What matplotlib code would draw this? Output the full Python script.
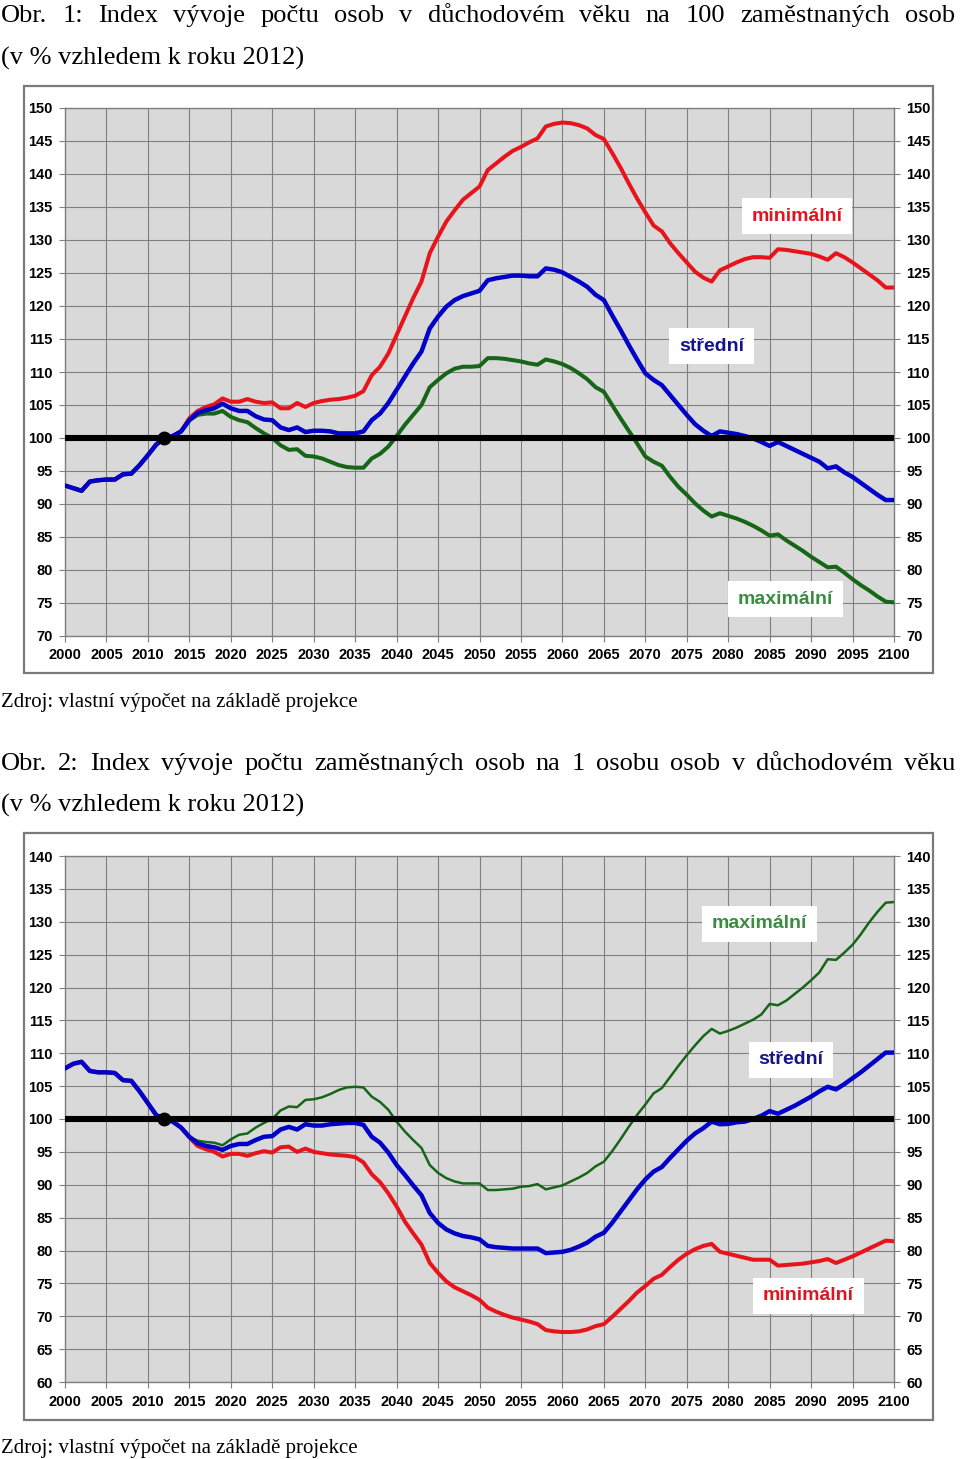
import matplotlib
matplotlib.use('Agg')
import matplotlib.pyplot as plt
import numpy as np
from matplotlib.patches import Rectangle

# ---------------- DATA ----------------
years = list(range(2000, 2101))
base_value = 100
base_year = 2012

# Chart 1: persons in retirement age per 100 employed (index, 2012 = 100)
common1 = [92.8, 92.4, 92.0, 93.4, 93.6, 93.7, 93.7, 94.5, 94.6, 95.9,
           97.4, 99.0, 100.0, 100.3, 101.0]
stredni1 = common1 + [
    102.7, 103.8, 104.2, 104.5, 105.2,
    104.5, 104.1, 104.1, 103.3, 102.8, 102.7, 101.6, 101.2, 101.6, 100.9,
    101.1, 101.1, 101.0, 100.7, 100.7, 100.7, 101.0, 102.7, 103.7, 105.3,
    107.3, 109.3, 111.3, 113.1, 116.6, 118.4, 119.9, 120.9, 121.5, 121.9,
    122.3, 123.9, 124.2, 124.4, 124.6, 124.6, 124.5, 124.5, 125.7, 125.5,
    125.1, 124.4, 123.7, 122.9, 121.7, 120.9, 118.6, 116.4, 114.1, 111.9,
    109.8, 108.8, 108.0, 106.5, 105.0, 103.5, 102.1, 101.1, 100.3, 101.0,
    100.8, 100.6, 100.3, 99.95, 99.4, 98.8, 99.4, 98.8, 98.2, 97.6,
    97.0, 96.4, 95.4, 95.7, 94.8, 94.1, 93.2, 92.3, 91.4, 90.6,
    90.6]
minimalni1 = common1 + [
    103.0, 104.1, 104.7, 105.1, 106.0,
    105.5, 105.5, 105.9, 105.5, 105.3, 105.4, 104.5, 104.5, 105.3, 104.7,
    105.3, 105.6, 105.8, 105.9, 106.1, 106.4, 107.1, 109.5, 110.8, 112.8,
    115.6, 118.4, 121.2, 123.7, 128.0, 130.5, 132.8, 134.5, 136.1, 137.1,
    138.1, 140.6, 141.6, 142.6, 143.5, 144.1, 144.8, 145.4, 147.2, 147.6,
    147.8, 147.7, 147.4, 146.9, 145.9, 145.3, 143.2, 141.0, 138.6, 136.3,
    134.2, 132.2, 131.3, 129.5, 128.0, 126.6, 125.2, 124.3, 123.7, 125.4,
    126.0, 126.6, 127.1, 127.4, 127.4, 127.3, 128.6, 128.5, 128.3, 128.1,
    127.9, 127.5, 127.0, 128.0, 127.4, 126.6, 125.7, 124.8, 123.9, 122.8,
    122.8]
maximalni1 = common1 + [
    102.7, 103.5, 103.7, 103.7, 104.1,
    103.2, 102.7, 102.4, 101.5, 100.7, 100.0, 98.9, 98.2, 98.3, 97.3,
    97.2, 96.9, 96.4, 95.9, 95.6, 95.5, 95.5, 96.9, 97.6, 98.7,
    100.3, 102.0, 103.5, 105.0, 107.7, 108.8, 109.8, 110.5, 110.8, 110.8,
    110.9, 112.1, 112.1, 112.0, 111.8, 111.6, 111.3, 111.1, 111.9, 111.6,
    111.2, 110.6, 109.8, 108.9, 107.7, 107.0, 105.0, 103.0, 101.1, 99.2,
    97.2, 96.4, 95.8, 94.1, 92.6, 91.4, 90.1, 89.0, 88.1, 88.6,
    88.2, 87.8, 87.3, 86.7, 86.0, 85.2, 85.4, 84.5, 83.7, 82.9,
    82.0, 81.2, 80.4, 80.5, 79.6, 78.6, 77.7, 76.9, 76.0, 75.2,
    75.1]

# Chart 2: employed persons per 1 person in retirement age (index, 2012 = 100)
common2 = [107.7, 108.4, 108.7, 107.3, 107.1, 107.1, 107.0, 105.9, 105.8, 104.2,
           102.4, 100.6, 100.0, 99.6, 98.7]
stredni2 = common2 + [
    97.3, 96.3, 95.9, 95.7, 95.3,
    95.9, 96.2, 96.2, 96.8, 97.3, 97.4, 98.4, 98.8, 98.4, 99.2,
    99.0, 99.0, 99.2, 99.3, 99.4, 99.4, 99.1, 97.3, 96.4, 94.9,
    93.0, 91.5, 89.9, 88.4, 85.7, 84.2, 83.2, 82.6, 82.2, 82.0,
    81.7, 80.7, 80.5, 80.4, 80.3, 80.3, 80.3, 80.3, 79.6, 79.7,
    79.8, 80.1, 80.6, 81.2, 82.1, 82.7, 84.2, 85.9, 87.6, 89.3,
    90.8, 92.0, 92.7, 94.1, 95.4, 96.7, 97.8, 98.6, 99.6, 99.2,
    99.25, 99.5, 99.6, 100.0, 100.5, 101.2, 100.8, 101.4, 102.0, 102.7,
    103.4, 104.2, 104.9, 104.5, 105.3, 106.2, 107.1, 108.1, 109.1, 110.1,
    110.1]
minimalni2 = common2 + [
    97.2, 95.9, 95.4, 95.0, 94.3,
    94.7, 94.7, 94.4, 94.8, 95.1, 94.9, 95.7, 95.8, 95.0, 95.5,
    95.0, 94.8, 94.6, 94.5, 94.4, 94.2, 93.4, 91.6, 90.4, 88.7,
    86.7, 84.4, 82.6, 80.9, 78.1, 76.6, 75.3, 74.4, 73.8, 73.2,
    72.5, 71.3, 70.7, 70.2, 69.8, 69.5, 69.2, 68.8, 67.9, 67.7,
    67.6, 67.6, 67.7, 68.0, 68.5, 68.8, 69.9, 71.1, 72.3, 73.6,
    74.6, 75.7, 76.3, 77.5, 78.6, 79.5, 80.2, 80.7, 81.0, 79.8,
    79.5, 79.2, 78.9, 78.6, 78.6, 78.6, 77.7, 77.8, 77.9, 78.0,
    78.2, 78.4, 78.7, 78.1, 78.6, 79.1, 79.7, 80.3, 80.9, 81.5,
    81.4]
maximalni2 = common2 + [
    97.3, 96.7, 96.5, 96.4, 96.0,
    96.9, 97.6, 97.8, 98.7, 99.4, 100.0, 101.3, 101.9, 101.8, 102.9,
    103.0, 103.3, 103.8, 104.4, 104.8, 104.9, 104.8, 103.4, 102.6, 101.4,
    99.6, 98.1, 96.8, 95.6, 93.0, 91.8, 91.0, 90.5, 90.2, 90.2,
    90.2, 89.2, 89.2, 89.3, 89.4, 89.7, 89.8, 90.1, 89.3, 89.6,
    89.9, 90.5, 91.1, 91.8, 92.8, 93.5, 95.1, 96.9, 98.8, 100.6,
    102.2, 103.9, 104.7, 106.4, 108.1, 109.7, 111.2, 112.6, 113.7, 113.0,
    113.4, 113.9, 114.5, 115.1, 115.9, 117.5, 117.3, 118.0, 119.0, 120.0,
    121.1, 122.3, 124.3, 124.2, 125.3, 126.5, 128.1, 129.9, 131.5, 132.9,
    133.0]

title1 = ["Obr. 1: Index vývoje počtu osob v důchodovém věku na 100 zaměstnaných osob",
          "(v % vzhledem k roku 2012)"]
title2 = ["Obr. 2: Index vývoje počtu zaměstnaných osob na 1 osobu osob v důchodovém věku",
          "(v % vzhledem k roku 2012)"]
source = "Zdroj: vlastní výpočet na základě projekce"
x_ticks = list(range(2000, 2101, 5))
y_ticks1 = list(range(70, 151, 5))
y_ticks2 = list(range(60, 141, 5))

# ---------------- STYLE ----------------
W, H = 960, 1459
RED, BLUE, GREEN = '#e8141c', '#0000c8', '#176617'
RED_T, BLUE_T, GREEN_T = '#e0141e', '#14148c', '#3a8c40'
SANS = 'Liberation Sans'
SERIF = 'Liberation Serif'
TITLE_SIZE = 19
TICK_SIZE = 10.5

fig = plt.figure(figsize=(W / 100, H / 100), dpi=100)
fig.patch.set_facecolor('white')


def fx(px):
    return px / W


def fy(py):
    return 1 - py / H


def justified(text, y_base, x0, x1, size):
    words = text.split()
    objs = [fig.text(0, fy(y_base), w, fontsize=size, family=SERIF,
                     va='baseline', ha='left') for w in words]
    r = fig.canvas.get_renderer()
    widths = [o.get_window_extent(r).width for o in objs]
    gap = (x1 - x0 - sum(widths)) / (len(words) - 1)
    x = x0
    for o, wd in zip(objs, widths):
        o.set_x(fx(x))
        x += wd + gap


def frame(top, bottom):
    fig.patches.append(Rectangle((fx(24), fy(bottom)), fx(933) - fx(24),
                                 (bottom - top) / H, transform=fig.transFigure,
                                 fill=False, ec='#7a7a7a', lw=1.6, zorder=0))


def make_axes(top, bottom, ylim, yticks):
    ax = fig.add_axes([fx(65), fy(bottom), fx(894) - fx(65), (bottom - top) / H])
    ax.set_facecolor('#d9d9d9')
    ax.set_xlim(years[0], years[-1])
    ax.set_ylim(*ylim)
    ax.set_xticks(x_ticks)
    ax.set_yticks(yticks)
    ax.grid(True, color='#7f7f7f', lw=0.8)
    ax.set_axisbelow(True)
    ax.tick_params(axis='y', left=True, right=True, labelleft=True,
                   labelright=True, length=4, width=0.8, color='#7f7f7f', pad=5)
    ax.tick_params(axis='x', length=4, width=0.8, color='#7f7f7f', pad=5)
    for t in ax.xaxis.get_major_ticks() + ax.yaxis.get_major_ticks():
        for lab in (t.label1, t.label2):
            lab.set_fontfamily(SANS)
            lab.set_fontweight('bold')
            lab.set_fontsize(TICK_SIZE)
    for s in ax.spines.values():
        s.set_color('#7f7f7f')
        s.set_linewidth(1.0)
    return ax


def label(ax, x, y, txt, color):
    ax.text(x, y, txt, color=color, fontsize=14, fontweight='bold', family=SANS,
            ha='center', va='center', zorder=8,
            bbox=dict(boxstyle='square,pad=0.5', fc='white', ec='none'))


def baseline(ax):
    ax.axhline(base_value, color='black', lw=4.4, zorder=6)
    ax.plot([base_year], [base_value], 'o', color='black', ms=9, zorder=7)


# ---------------- CHART 1 ----------------
justified(title1[0], 22, 1, 955, TITLE_SIZE)
fig.text(fx(1), fy(65), title1[1], fontsize=TITLE_SIZE, family=SERIF,
         va='baseline', ha='left')
frame(86, 673)
ax1 = make_axes(108, 636, (70, 150), y_ticks1)
ax1.plot(years, maximalni1, color=GREEN, lw=2.9, zorder=3, solid_joinstyle='round')
ax1.plot(years, minimalni1, color=RED, lw=2.9, zorder=4, solid_joinstyle='round')
ax1.plot(years, stredni1, color=BLUE, lw=3.2, zorder=5, solid_joinstyle='round')
baseline(ax1)
label(ax1, 2088.3, 133.6, 'minimální', RED_T)
label(ax1, 2078.0, 113.9, 'střední', BLUE_T)
label(ax1, 2086.9, 75.6, 'maximální', GREEN_T)
fig.text(fx(1), fy(707), source, fontsize=15, family=SERIF, va='baseline', ha='left')

# ---------------- CHART 2 ----------------
justified(title2[0], 770, 1, 955, TITLE_SIZE)
fig.text(fx(1), fy(812), title2[1], fontsize=TITLE_SIZE, family=SERIF,
         va='baseline', ha='left')
frame(833, 1420)
ax2 = make_axes(856, 1382, (60, 140), y_ticks2)
ax2.plot(years, maximalni2, color=GREEN, lw=1.8, zorder=3, solid_joinstyle='round')
ax2.plot(years, minimalni2, color=RED, lw=2.9, zorder=4, solid_joinstyle='round')
ax2.plot(years, stredni2, color=BLUE, lw=3.2, zorder=5, solid_joinstyle='round')
baseline(ax2)
label(ax2, 2083.8, 129.7, 'maximální', GREEN_T)
label(ax2, 2087.6, 109.0, 'střední', BLUE_T)
label(ax2, 2089.7, 73.1, 'minimální', RED_T)
fig.text(fx(1), fy(1453), source, fontsize=15, family=SERIF, va='baseline', ha='left')

fig.savefig('out.png', dpi=100)
